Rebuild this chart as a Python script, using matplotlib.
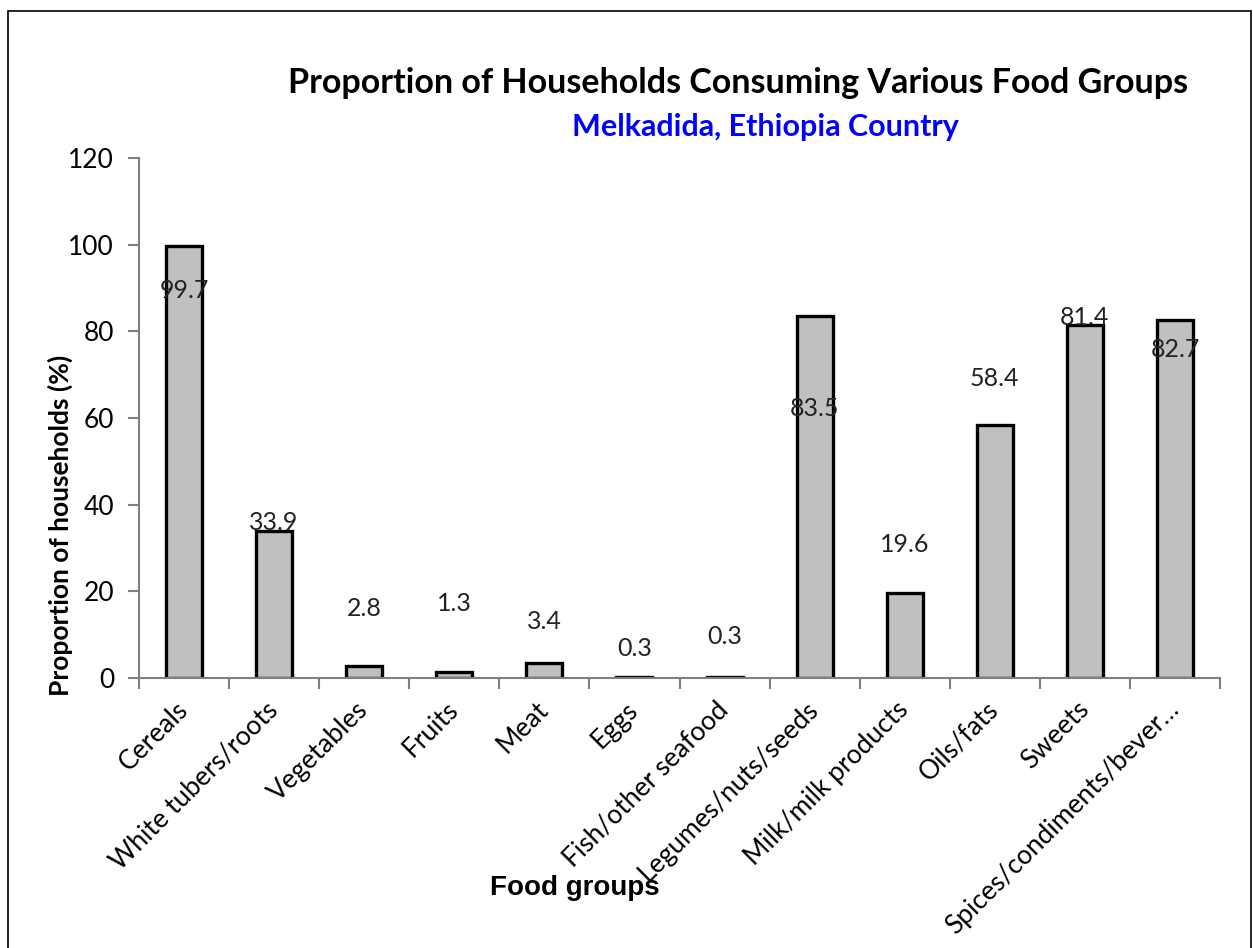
"""
Bar chart: proportion of households consuming various food groups
"""

import matplotlib

matplotlib.use("Agg")
import matplotlib.pyplot as plt
import numpy as np
from matplotlib.patches import Rectangle

food_groups = [
    "Cereals",
    "White tubers/roots",
    "Vegetables",
    "Fruits",
    "Meat",
    "Eggs",
    "Fish/other seafood",
    "Legumes/nuts/seeds",
    "Milk/milk products",
    "Oils/fats",
    "Sweets",
    "Spices/condiments/bever…",
]
proportion = [99.7, 33.9, 2.8, 1.3, 3.4, 0.3, 0.3, 83.5, 19.6, 58.4, 81.4, 82.7]
# where the value labels sit (the original chart placed them loosely)
label_y = [89.5, 36.0, 16.0, 17.3, 13.0, 6.7, 9.5, 62.3, 30.7, 69.2, 83.3, 75.9]
y_ticks = [0, 20, 40, 60, 80, 100, 120]

body_font = ["Lato", "DejaVu Sans"]
head_font = ["Liberation Sans", "DejaVu Sans"]

W, H = 1253, 948
fig = plt.figure(figsize=(W / 100, H / 100), dpi=100)
fig.patch.set_facecolor("white")

# outer chart border
fig.patches.append(
    Rectangle((8 / W, -0.01), (1251 - 8) / W, 1 - 11 / H + 0.01,
              transform=fig.transFigure, fill=False, edgecolor="black", linewidth=1.2)
)

ax = fig.add_axes([139 / W, 1 - 678 / H, (1220 - 139) / W, (678 - 158) / H])

x = np.arange(len(food_groups))
ax.bar(x, proportion, width=0.4, color="#c0c0c0", edgecolor="black", linewidth=2.4, zorder=2)

for xi, val, ly in zip(x, proportion, label_y):
    ax.text(xi, ly, "%.1f" % val, ha="center", va="center", fontsize=18,
            family=body_font, color="#222222", zorder=3)

ax.set_xlim(-0.5, len(food_groups) - 0.5)
ax.set_ylim(0, 120)
ax.set_yticks(y_ticks)
ax.set_yticklabels([str(t) for t in y_ticks], family=body_font, fontsize=19)

ax.set_xticks(x)
ax.set_xticks(np.arange(len(food_groups) + 1) - 0.5, minor=True)
ax.set_xticklabels(food_groups, rotation=45, ha="right", va="center",
                   rotation_mode="anchor", family=body_font, fontsize=19)
ax.tick_params(axis="x", which="major", length=0, pad=20)
ax.tick_params(axis="x", which="minor", length=8, color="#808080", width=1.5)
ax.tick_params(axis="y", length=8, color="#808080", width=1.5, pad=10)

for side in ["top", "right"]:
    ax.spines[side].set_visible(False)
for side in ["left", "bottom"]:
    ax.spines[side].set_color("#808080")
    ax.spines[side].set_linewidth(1.5)

fig.text(60 / W, 1 - 525 / H, "Proportion of households (%)", family=body_font,
         fontsize=19, fontweight="bold", rotation=90, ha="center", va="center")
fig.text(575 / W, 1 - 888 / H, "Food groups", family=head_font, fontsize=20,
         fontweight="bold", ha="center", va="center")

fig.text(738 / W, 1 - 83 / H, "Proportion of Households Consuming Various Food Groups",
         family=body_font, fontsize=24.5, fontweight="bold", ha="center", va="center")
fig.text(765 / W, 1 - 127 / H, "Melkadida, Ethiopia Country",
         family=body_font, fontsize=22, fontweight="bold", ha="center", va="center",
         color="#0000ff")

fig.savefig("out.png", dpi=100, facecolor="white")
